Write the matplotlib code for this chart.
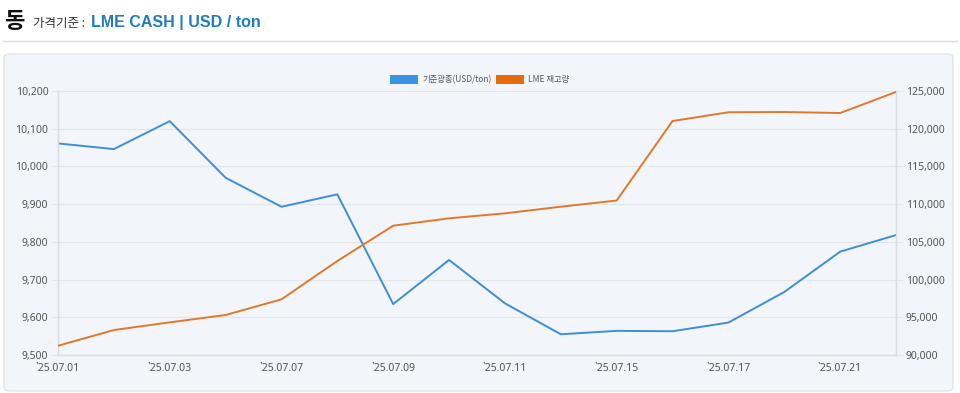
import matplotlib
matplotlib.use("Agg")
import matplotlib.pyplot as plt
from matplotlib.patches import FancyBboxPatch, Rectangle
from matplotlib.lines import Line2D
from matplotlib.ticker import FuncFormatter, MultipleLocator

plt.rcParams['font.family'] = ['Noto Sans CJK KR', 'DejaVu Sans']

dates = ["`25.07.01", "`25.07.02", "`25.07.03", "`25.07.04", "`25.07.07", "`25.07.08",
         "`25.07.09", "`25.07.10", "`25.07.11", "`25.07.14", "`25.07.15", "`25.07.16",
         "`25.07.17", "`25.07.18", "`25.07.21", "`25.07.22"]
price = [10061, 10046, 10120, 9970, 9893, 9926, 9635, 9752, 9637, 9555, 9564, 9563,
         9586, 9667, 9774, 9818]
stock = [91230, 93310, 94330, 95300, 97380, 102460, 107140, 108120, 108780, 109660,
         110480, 121020, 122180, 122215, 122080, 124870]
series_names = ["기준광종(USD/ton)", "LME 재고량"]

W, H = 960, 393
fig = plt.figure(figsize=(9.6, 3.93), dpi=100)
fig.patch.set_facecolor('white')

def fx(px): return px / W
def fy(py): return 1 - py / H

# Header
fig.text(fx(4), fy(28), "동", fontsize=16, fontweight='bold', color='#111111', va='baseline')
fig.text(fx(33), fy(27), "가격기준 :", fontsize=9, color='#333333', va='baseline')
fig.text(fx(91), fy(27.5), "LME CASH | USD / ton", fontsize=11.5, fontweight='bold',
         color='#1f7bc4', va='baseline', family=['Liberation Sans', 'DejaVu Sans'])
fig.add_artist(Line2D([fx(3), fx(957)], [fy(41), fy(41)], color='#dddddd', lw=1,
                      transform=fig.transFigure))

# Panel
panel = FancyBboxPatch((fx(4), fy(391)), fx(953) - fx(4), fy(54) - fy(391),
                       boxstyle="round,pad=0,rounding_size=0.008",
                       transform=fig.transFigure, facecolor='#f2f5f9',
                       edgecolor='#e1e5ea', lw=1, zorder=0)
fig.add_artist(panel)

ax = fig.add_axes([fx(58), fy(355), fx(896) - fx(58), fy(91) - fy(355)])
ax.set_facecolor('none')
ax2 = ax.twinx()

blue = '#3e8ed8'
orange = '#e2792a'
x = list(range(len(dates)))
ax.plot(x, price, color=blue, lw=1.4, zorder=3)
ax2.plot(x, stock, color=orange, lw=1.4, zorder=3)

ax.set_xlim(0, len(dates) - 1)
ax.set_ylim(9500, 10200)
ax2.set_ylim(90000, 125000)
ax.yaxis.set_major_locator(MultipleLocator(100))
ax2.yaxis.set_major_locator(MultipleLocator(5000))
fmt = FuncFormatter(lambda v, p: f"{int(round(v)):,}")
ax.yaxis.set_major_formatter(fmt)
ax2.yaxis.set_major_formatter(fmt)

ax.set_xticks(x[::2])
ax.set_xticklabels(dates[::2])

ax.grid(axis='y', color='#e3e7ec', lw=0.9)
ax.set_axisbelow(True)
for a in (ax, ax2):
    for s in a.spines.values():
        s.set_color('#d8dde3')
        s.set_linewidth(0.9)
    a.spines['top'].set_visible(False)
ax.tick_params(axis='y', length=5, color='#e3e7ec', labelsize=7.5, labelcolor='#555555', pad=2)
ax2.tick_params(axis='y', length=5, color='#e3e7ec', labelsize=7.5, labelcolor='#555555', pad=2)
ax.tick_params(axis='x', length=0, labelsize=7.5, labelcolor='#555555', pad=6)
for lab in ax.get_xticklabels() + ax.get_yticklabels() + ax2.get_yticklabels():
    lab.set_family(['Noto Sans', 'DejaVu Sans'])

# Legend
fig.add_artist(Rectangle((fx(390), fy(84)), fx(28), fy(75) - fy(84), transform=fig.transFigure,
                         facecolor='#3b92e0', edgecolor='none'))
fig.text(fx(422), fy(79.5), series_names[0], fontsize=6, color='#555555', va='center')
fig.add_artist(Rectangle((fx(496), fy(84)), fx(28), fy(75) - fy(84), transform=fig.transFigure,
                         facecolor='#e46c0c', edgecolor='none'))
fig.text(fx(528), fy(79.5), series_names[1], fontsize=6, color='#555555', va='center')

fig.savefig("out.png", dpi=100)
